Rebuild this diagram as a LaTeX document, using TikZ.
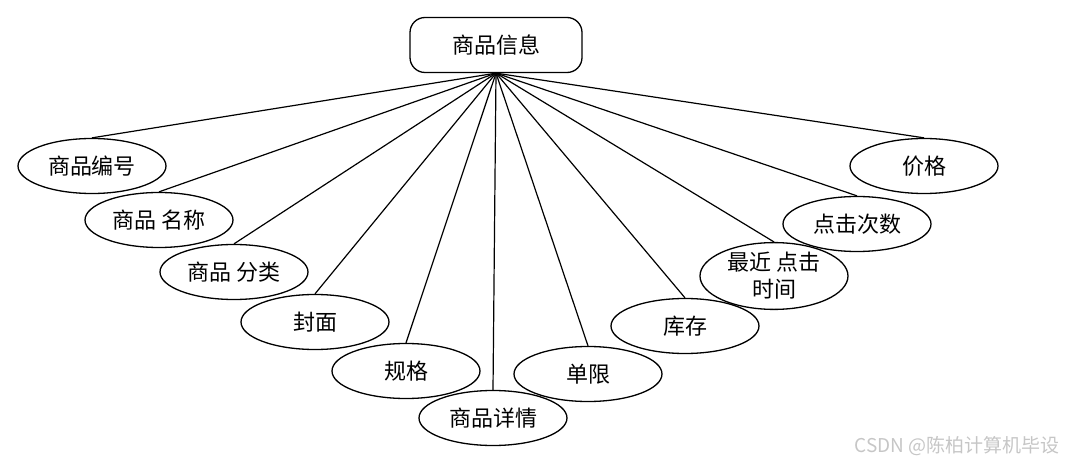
\documentclass[tikz,border=0pt]{standalone}
\usepackage{fontspec}
\setmainfont{Noto Sans CJK SC}
\usetikzlibrary{shapes.geometric}
\begin{document}
\begin{tikzpicture}[x=1pt,y=-1pt,
    ent/.style={draw,line width=1.3pt,rounded corners=15pt,minimum width=172pt,minimum height=55pt,font=\fontsize{22}{26}\selectfont},
    attr/.style={draw,ellipse,line width=1.3pt,minimum width=148pt,minimum height=55pt,inner sep=0pt,align=center,font=\fontsize{22}{27}\selectfont},
    link/.style={line width=1.2pt} ]
    \useasboundingbox (0,0) rectangle (1069,465);
    \node [ent] (info) at (496,45) {商品信息};
    \node [attr] (bh) at (92,166) {商品编号};
    \node [attr] (mc) at (159,220) {商品 名称};
    \node [attr] (fl) at (234,272) {商品 分类};
    \node [attr] (fm) at (315,322) {封面};
    \node [attr] (gg) at (406,371) {规格};
    \node [attr] (xq) at (493,418) {商品详情};
    \node [attr] (dx) at (588,374) {单限};
    \node [attr] (kc) at (685,326) {库存};
    \node [attr] (sj) at (774,276) {最近 点击\\时间};
    \node [attr] (cs) at (857,224) {点击次数};
    \node [attr] (jg) at (924,166) {价格};
    \draw [link] (info.south) -- (bh.north);
    \draw [link] (info.south) -- (mc.north);
    \draw [link] (info.south) -- (fl.north);
    \draw [link] (info.south) -- (fm.north);
    \draw [link] (info.south) -- (gg.north);
    \draw [link] (info.south) -- (xq.north);
    \draw [link] (info.south) -- (dx.north);
    \draw [link] (info.south) -- (kc.north);
    \draw [link] (info.south) -- (sj.north);
    \draw [link] (info.south) -- (cs.north);
    \draw [link] (info.south) -- (jg.north);
    \node [anchor=east,text=gray!45,font=\fontsize{19}{19}\selectfont] (mark) at (1063,446) {CSDN @陈柏计算机毕设};
\end{tikzpicture}
\end{document}
